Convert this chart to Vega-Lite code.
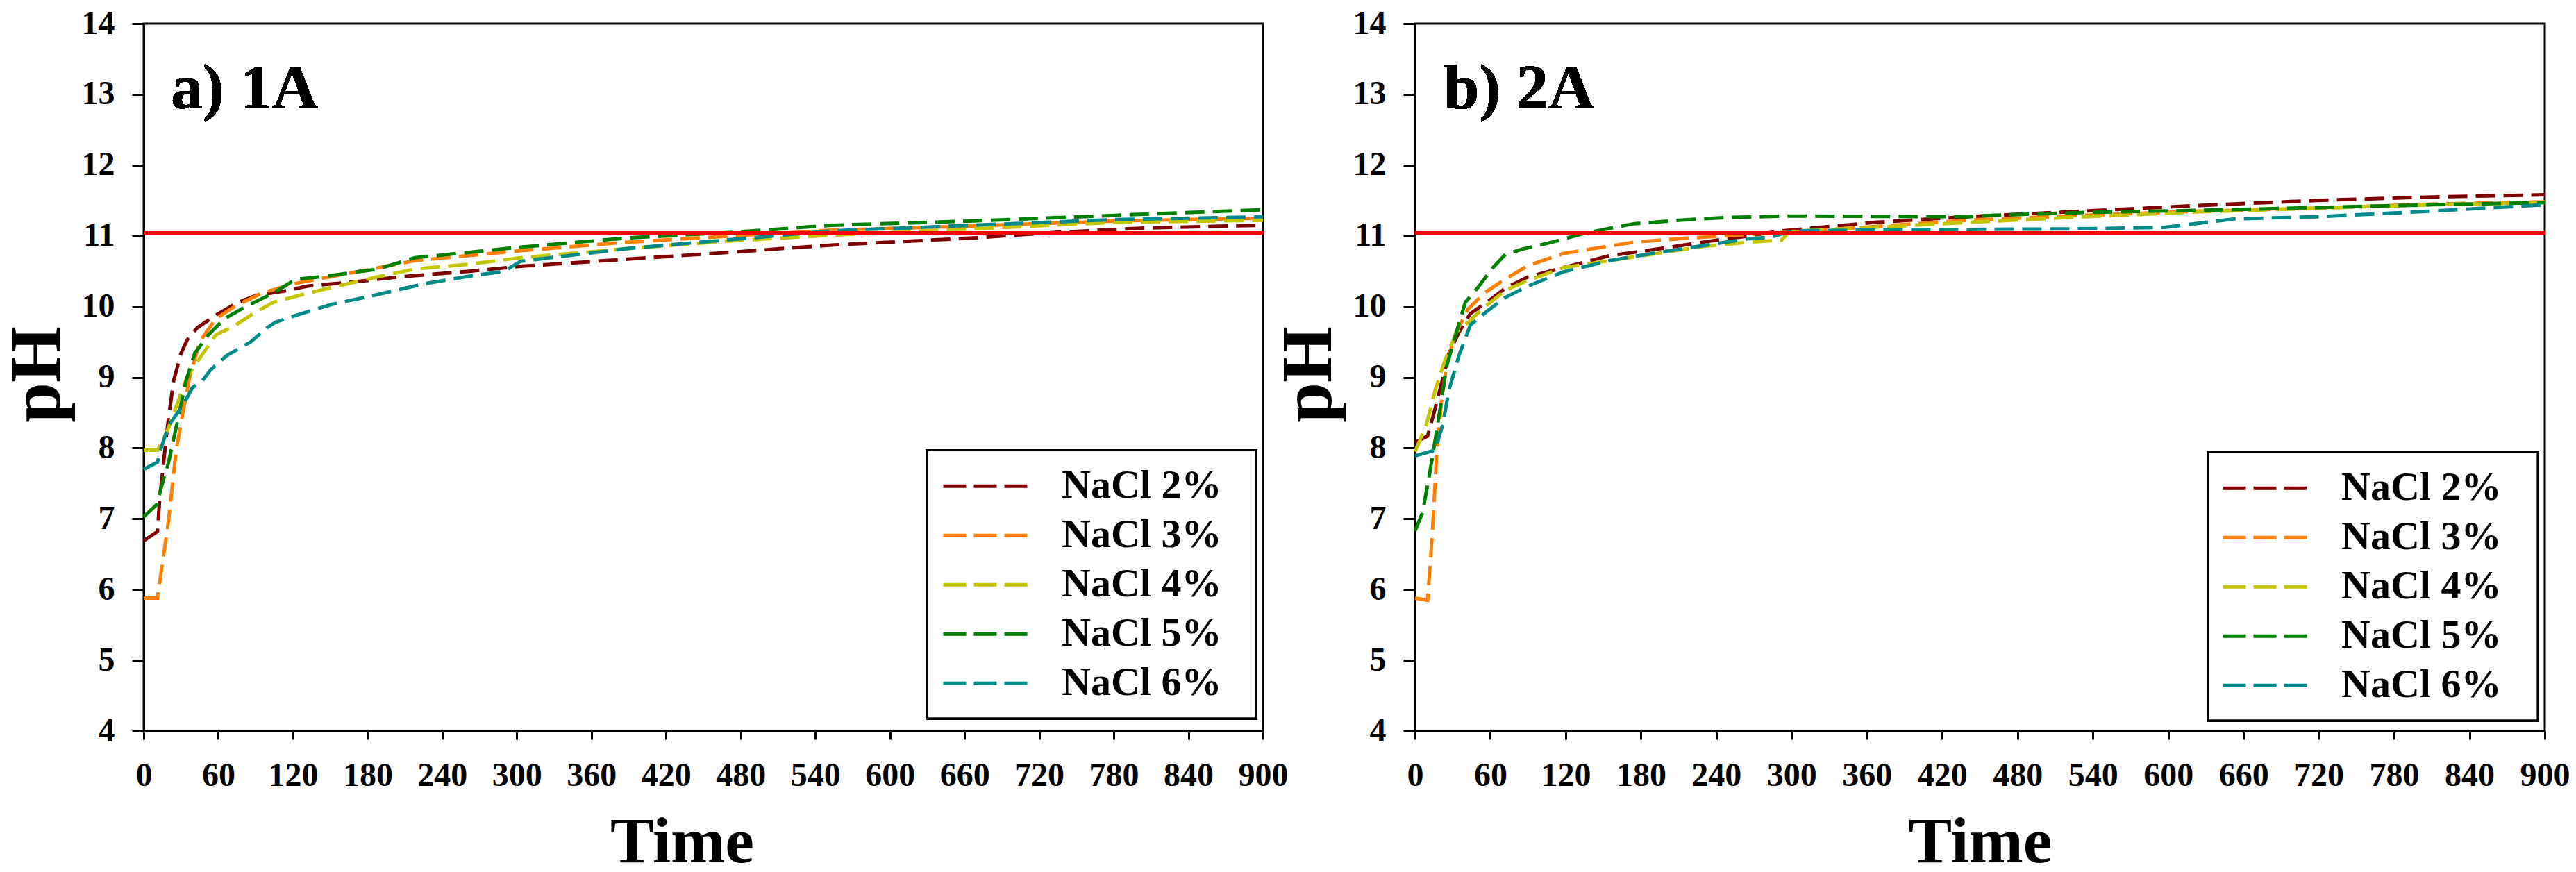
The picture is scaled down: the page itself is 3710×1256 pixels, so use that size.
{
  "$schema": "https://vega.github.io/schema/vega-lite/v6.json",
  "background": "white",
  "padding": {"left": 0, "top": 8, "right": 0, "bottom": 0},
  "spacing": 219,
  "bounds": "flush",
  "config": {
    "font": "Liberation Serif",
    "view": {"stroke": "black", "strokeWidth": 3},
    "axis": {
      "grid": false,
      "domainColor": "black",
      "domainWidth": 3,
      "tickColor": "black",
      "tickWidth": 3,
      "labelFont": "Liberation Serif",
      "labelFontWeight": "bold",
      "labelFontSize": 48,
      "labelColor": "black",
      "labelFlush": false,
      "labelOverlap": false,
      "titleFont": "Liberation Serif",
      "titleFontWeight": "bold",
      "titleColor": "black"
    },
    "legend": {
      "orient": "none",
      "title": null,
      "padding": 0,
      "symbolType": "stroke",
      "symbolSize": 14884,
      "symbolStrokeWidth": 5,
      "symbolDash": [33, 11],
      "labelFont": "Liberation Serif",
      "labelFontWeight": "bold",
      "labelFontSize": 58,
      "labelColor": "black",
      "labelOffset": 46,
      "clipHeight": 70.5,
      "rowPadding": 0,
      "labelLimit": 400
    }
  },
  "datasets": {
    "panelA": [
      {"series": "NaCl 2%", "time": 0, "pH": 6.69},
      {"series": "NaCl 2%", "time": 11, "pH": 6.82},
      {"series": "NaCl 2%", "time": 13, "pH": 7.31},
      {"series": "NaCl 2%", "time": 19, "pH": 8.29},
      {"series": "NaCl 2%", "time": 24, "pH": 8.95},
      {"series": "NaCl 2%", "time": 30, "pH": 9.34},
      {"series": "NaCl 2%", "time": 35, "pH": 9.53},
      {"series": "NaCl 2%", "time": 43, "pH": 9.7},
      {"series": "NaCl 2%", "time": 58, "pH": 9.88},
      {"series": "NaCl 2%", "time": 76, "pH": 10.06},
      {"series": "NaCl 2%", "time": 91, "pH": 10.16},
      {"series": "NaCl 2%", "time": 113, "pH": 10.22},
      {"series": "NaCl 2%", "time": 132, "pH": 10.29},
      {"series": "NaCl 2%", "time": 169, "pH": 10.35},
      {"series": "NaCl 2%", "time": 206, "pH": 10.42},
      {"series": "NaCl 2%", "time": 262, "pH": 10.5},
      {"series": "NaCl 2%", "time": 303, "pH": 10.57},
      {"series": "NaCl 2%", "time": 389, "pH": 10.67},
      {"series": "NaCl 2%", "time": 474, "pH": 10.77},
      {"series": "NaCl 2%", "time": 553, "pH": 10.87},
      {"series": "NaCl 2%", "time": 667, "pH": 10.97},
      {"series": "NaCl 2%", "time": 735, "pH": 11.05},
      {"series": "NaCl 2%", "time": 804, "pH": 11.11},
      {"series": "NaCl 2%", "time": 900, "pH": 11.15},
      {"series": "NaCl 3%", "time": 0, "pH": 5.88},
      {"series": "NaCl 3%", "time": 11, "pH": 5.88},
      {"series": "NaCl 3%", "time": 20, "pH": 6.98},
      {"series": "NaCl 3%", "time": 26, "pH": 7.96},
      {"series": "NaCl 3%", "time": 32, "pH": 8.55},
      {"series": "NaCl 3%", "time": 37, "pH": 9.01},
      {"series": "NaCl 3%", "time": 45, "pH": 9.5},
      {"series": "NaCl 3%", "time": 50, "pH": 9.63},
      {"series": "NaCl 3%", "time": 58, "pH": 9.83},
      {"series": "NaCl 3%", "time": 73, "pH": 10.0},
      {"series": "NaCl 3%", "time": 95, "pH": 10.19},
      {"series": "NaCl 3%", "time": 114, "pH": 10.29},
      {"series": "NaCl 3%", "time": 128, "pH": 10.35},
      {"series": "NaCl 3%", "time": 180, "pH": 10.52},
      {"series": "NaCl 3%", "time": 218, "pH": 10.65},
      {"series": "NaCl 3%", "time": 303, "pH": 10.79},
      {"series": "NaCl 3%", "time": 389, "pH": 10.91},
      {"series": "NaCl 3%", "time": 474, "pH": 11.0},
      {"series": "NaCl 3%", "time": 553, "pH": 11.08},
      {"series": "NaCl 3%", "time": 667, "pH": 11.14},
      {"series": "NaCl 3%", "time": 781, "pH": 11.21},
      {"series": "NaCl 3%", "time": 900, "pH": 11.25},
      {"series": "NaCl 4%", "time": 0, "pH": 7.97},
      {"series": "NaCl 4%", "time": 11, "pH": 7.97},
      {"series": "NaCl 4%", "time": 15, "pH": 8.09},
      {"series": "NaCl 4%", "time": 20, "pH": 8.29},
      {"series": "NaCl 4%", "time": 28, "pH": 8.68},
      {"series": "NaCl 4%", "time": 35, "pH": 9.01},
      {"series": "NaCl 4%", "time": 45, "pH": 9.27},
      {"series": "NaCl 4%", "time": 58, "pH": 9.6},
      {"series": "NaCl 4%", "time": 73, "pH": 9.73},
      {"series": "NaCl 4%", "time": 88, "pH": 9.9},
      {"series": "NaCl 4%", "time": 104, "pH": 10.06},
      {"series": "NaCl 4%", "time": 132, "pH": 10.19},
      {"series": "NaCl 4%", "time": 151, "pH": 10.27},
      {"series": "NaCl 4%", "time": 188, "pH": 10.42},
      {"series": "NaCl 4%", "time": 218, "pH": 10.53},
      {"series": "NaCl 4%", "time": 262, "pH": 10.6},
      {"series": "NaCl 4%", "time": 303, "pH": 10.69},
      {"series": "NaCl 4%", "time": 389, "pH": 10.82},
      {"series": "NaCl 4%", "time": 474, "pH": 10.93},
      {"series": "NaCl 4%", "time": 553, "pH": 11.01},
      {"series": "NaCl 4%", "time": 667, "pH": 11.1},
      {"series": "NaCl 4%", "time": 781, "pH": 11.19},
      {"series": "NaCl 4%", "time": 900, "pH": 11.22},
      {"series": "NaCl 5%", "time": 0, "pH": 7.03},
      {"series": "NaCl 5%", "time": 11, "pH": 7.21},
      {"series": "NaCl 5%", "time": 14, "pH": 7.44},
      {"series": "NaCl 5%", "time": 20, "pH": 7.8},
      {"series": "NaCl 5%", "time": 28, "pH": 8.45},
      {"series": "NaCl 5%", "time": 34, "pH": 8.95},
      {"series": "NaCl 5%", "time": 41, "pH": 9.34},
      {"series": "NaCl 5%", "time": 52, "pH": 9.6},
      {"series": "NaCl 5%", "time": 65, "pH": 9.83},
      {"series": "NaCl 5%", "time": 82, "pH": 10.0},
      {"series": "NaCl 5%", "time": 104, "pH": 10.19},
      {"series": "NaCl 5%", "time": 119, "pH": 10.35},
      {"series": "NaCl 5%", "time": 125, "pH": 10.39},
      {"series": "NaCl 5%", "time": 151, "pH": 10.44},
      {"series": "NaCl 5%", "time": 188, "pH": 10.53},
      {"series": "NaCl 5%", "time": 218, "pH": 10.69},
      {"series": "NaCl 5%", "time": 303, "pH": 10.84},
      {"series": "NaCl 5%", "time": 389, "pH": 10.97},
      {"series": "NaCl 5%", "time": 474, "pH": 11.05},
      {"series": "NaCl 5%", "time": 553, "pH": 11.15},
      {"series": "NaCl 5%", "time": 667, "pH": 11.21},
      {"series": "NaCl 5%", "time": 781, "pH": 11.29},
      {"series": "NaCl 5%", "time": 900, "pH": 11.37},
      {"series": "NaCl 6%", "time": 0, "pH": 7.7},
      {"series": "NaCl 6%", "time": 11, "pH": 7.8},
      {"series": "NaCl 6%", "time": 14, "pH": 8.0},
      {"series": "NaCl 6%", "time": 20, "pH": 8.32},
      {"series": "NaCl 6%", "time": 32, "pH": 8.62},
      {"series": "NaCl 6%", "time": 39, "pH": 8.85},
      {"series": "NaCl 6%", "time": 47, "pH": 8.95},
      {"series": "NaCl 6%", "time": 54, "pH": 9.11},
      {"series": "NaCl 6%", "time": 67, "pH": 9.31},
      {"series": "NaCl 6%", "time": 86, "pH": 9.5},
      {"series": "NaCl 6%", "time": 99, "pH": 9.7},
      {"series": "NaCl 6%", "time": 106, "pH": 9.78},
      {"series": "NaCl 6%", "time": 123, "pH": 9.88},
      {"series": "NaCl 6%", "time": 151, "pH": 10.03},
      {"series": "NaCl 6%", "time": 188, "pH": 10.17},
      {"series": "NaCl 6%", "time": 225, "pH": 10.32},
      {"series": "NaCl 6%", "time": 262, "pH": 10.43},
      {"series": "NaCl 6%", "time": 290, "pH": 10.5},
      {"series": "NaCl 6%", "time": 303, "pH": 10.64},
      {"series": "NaCl 6%", "time": 389, "pH": 10.82},
      {"series": "NaCl 6%", "time": 474, "pH": 10.95},
      {"series": "NaCl 6%", "time": 553, "pH": 11.07},
      {"series": "NaCl 6%", "time": 667, "pH": 11.15},
      {"series": "NaCl 6%", "time": 781, "pH": 11.23},
      {"series": "NaCl 6%", "time": 900, "pH": 11.27}
    ],
    "panelB": [
      {"series": "NaCl 2%", "time": 0, "pH": 8.08},
      {"series": "NaCl 2%", "time": 10, "pH": 8.17},
      {"series": "NaCl 2%", "time": 16, "pH": 8.56},
      {"series": "NaCl 2%", "time": 22, "pH": 8.98},
      {"series": "NaCl 2%", "time": 27, "pH": 9.34},
      {"series": "NaCl 2%", "time": 35, "pH": 9.64},
      {"series": "NaCl 2%", "time": 44, "pH": 9.9},
      {"series": "NaCl 2%", "time": 57, "pH": 10.06},
      {"series": "NaCl 2%", "time": 72, "pH": 10.26},
      {"series": "NaCl 2%", "time": 90, "pH": 10.42},
      {"series": "NaCl 2%", "time": 118, "pH": 10.55},
      {"series": "NaCl 2%", "time": 155, "pH": 10.72},
      {"series": "NaCl 2%", "time": 192, "pH": 10.81},
      {"series": "NaCl 2%", "time": 229, "pH": 10.91},
      {"series": "NaCl 2%", "time": 266, "pH": 11.0},
      {"series": "NaCl 2%", "time": 292, "pH": 11.07},
      {"series": "NaCl 2%", "time": 366, "pH": 11.19},
      {"series": "NaCl 2%", "time": 440, "pH": 11.27},
      {"series": "NaCl 2%", "time": 533, "pH": 11.35},
      {"series": "NaCl 2%", "time": 625, "pH": 11.43},
      {"series": "NaCl 2%", "time": 718, "pH": 11.5},
      {"series": "NaCl 2%", "time": 811, "pH": 11.55},
      {"series": "NaCl 2%", "time": 900, "pH": 11.58},
      {"series": "NaCl 3%", "time": 0, "pH": 5.88},
      {"series": "NaCl 3%", "time": 10, "pH": 5.85},
      {"series": "NaCl 3%", "time": 14, "pH": 6.86},
      {"series": "NaCl 3%", "time": 17, "pH": 7.84},
      {"series": "NaCl 3%", "time": 21, "pH": 8.66},
      {"series": "NaCl 3%", "time": 25, "pH": 9.15},
      {"series": "NaCl 3%", "time": 31, "pH": 9.57},
      {"series": "NaCl 3%", "time": 42, "pH": 9.96},
      {"series": "NaCl 3%", "time": 55, "pH": 10.19},
      {"series": "NaCl 3%", "time": 72, "pH": 10.39},
      {"series": "NaCl 3%", "time": 90, "pH": 10.58},
      {"series": "NaCl 3%", "time": 118, "pH": 10.75},
      {"series": "NaCl 3%", "time": 146, "pH": 10.83},
      {"series": "NaCl 3%", "time": 174, "pH": 10.91},
      {"series": "NaCl 3%", "time": 211, "pH": 10.96},
      {"series": "NaCl 3%", "time": 248, "pH": 11.0},
      {"series": "NaCl 3%", "time": 348, "pH": 11.11},
      {"series": "NaCl 3%", "time": 440, "pH": 11.22},
      {"series": "NaCl 3%", "time": 533, "pH": 11.29},
      {"series": "NaCl 3%", "time": 625, "pH": 11.35},
      {"series": "NaCl 3%", "time": 718, "pH": 11.39},
      {"series": "NaCl 3%", "time": 811, "pH": 11.45},
      {"series": "NaCl 3%", "time": 900, "pH": 11.48},
      {"series": "NaCl 4%", "time": 0, "pH": 7.95},
      {"series": "NaCl 4%", "time": 9, "pH": 8.33},
      {"series": "NaCl 4%", "time": 16, "pH": 8.82},
      {"series": "NaCl 4%", "time": 24, "pH": 9.25},
      {"series": "NaCl 4%", "time": 33, "pH": 9.64},
      {"series": "NaCl 4%", "time": 42, "pH": 9.77},
      {"series": "NaCl 4%", "time": 53, "pH": 9.96},
      {"series": "NaCl 4%", "time": 72, "pH": 10.23},
      {"series": "NaCl 4%", "time": 90, "pH": 10.37},
      {"series": "NaCl 4%", "time": 118, "pH": 10.55},
      {"series": "NaCl 4%", "time": 155, "pH": 10.65},
      {"series": "NaCl 4%", "time": 192, "pH": 10.75},
      {"series": "NaCl 4%", "time": 229, "pH": 10.85},
      {"series": "NaCl 4%", "time": 266, "pH": 10.91},
      {"series": "NaCl 4%", "time": 292, "pH": 10.94},
      {"series": "NaCl 4%", "time": 298, "pH": 11.06},
      {"series": "NaCl 4%", "time": 366, "pH": 11.12},
      {"series": "NaCl 4%", "time": 440, "pH": 11.19},
      {"series": "NaCl 4%", "time": 533, "pH": 11.27},
      {"series": "NaCl 4%", "time": 625, "pH": 11.34},
      {"series": "NaCl 4%", "time": 718, "pH": 11.39},
      {"series": "NaCl 4%", "time": 811, "pH": 11.44},
      {"series": "NaCl 4%", "time": 900, "pH": 11.47},
      {"series": "NaCl 5%", "time": 0, "pH": 6.83},
      {"series": "NaCl 5%", "time": 6, "pH": 7.09},
      {"series": "NaCl 5%", "time": 12, "pH": 7.68},
      {"series": "NaCl 5%", "time": 18, "pH": 8.33},
      {"series": "NaCl 5%", "time": 25, "pH": 9.15},
      {"series": "NaCl 5%", "time": 33, "pH": 9.64},
      {"series": "NaCl 5%", "time": 40, "pH": 10.06},
      {"series": "NaCl 5%", "time": 51, "pH": 10.29},
      {"series": "NaCl 5%", "time": 62, "pH": 10.55},
      {"series": "NaCl 5%", "time": 72, "pH": 10.74},
      {"series": "NaCl 5%", "time": 85, "pH": 10.81},
      {"series": "NaCl 5%", "time": 109, "pH": 10.91},
      {"series": "NaCl 5%", "time": 136, "pH": 11.04},
      {"series": "NaCl 5%", "time": 174, "pH": 11.17},
      {"series": "NaCl 5%", "time": 210, "pH": 11.22},
      {"series": "NaCl 5%", "time": 248, "pH": 11.26},
      {"series": "NaCl 5%", "time": 300, "pH": 11.28},
      {"series": "NaCl 5%", "time": 440, "pH": 11.27},
      {"series": "NaCl 5%", "time": 459, "pH": 11.29},
      {"series": "NaCl 5%", "time": 533, "pH": 11.33},
      {"series": "NaCl 5%", "time": 625, "pH": 11.36},
      {"series": "NaCl 5%", "time": 718, "pH": 11.4},
      {"series": "NaCl 5%", "time": 811, "pH": 11.44},
      {"series": "NaCl 5%", "time": 900, "pH": 11.47},
      {"series": "NaCl 6%", "time": 0, "pH": 7.89},
      {"series": "NaCl 6%", "time": 16, "pH": 7.97},
      {"series": "NaCl 6%", "time": 22, "pH": 8.33},
      {"series": "NaCl 6%", "time": 27, "pH": 8.82},
      {"series": "NaCl 6%", "time": 35, "pH": 9.31},
      {"series": "NaCl 6%", "time": 44, "pH": 9.74},
      {"series": "NaCl 6%", "time": 57, "pH": 9.93},
      {"series": "NaCl 6%", "time": 72, "pH": 10.13},
      {"series": "NaCl 6%", "time": 90, "pH": 10.29},
      {"series": "NaCl 6%", "time": 118, "pH": 10.49},
      {"series": "NaCl 6%", "time": 155, "pH": 10.65},
      {"series": "NaCl 6%", "time": 192, "pH": 10.76},
      {"series": "NaCl 6%", "time": 229, "pH": 10.86},
      {"series": "NaCl 6%", "time": 266, "pH": 10.96},
      {"series": "NaCl 6%", "time": 283, "pH": 10.98},
      {"series": "NaCl 6%", "time": 301, "pH": 11.07},
      {"series": "NaCl 6%", "time": 348, "pH": 11.08},
      {"series": "NaCl 6%", "time": 440, "pH": 11.09},
      {"series": "NaCl 6%", "time": 533, "pH": 11.1},
      {"series": "NaCl 6%", "time": 597, "pH": 11.12},
      {"series": "NaCl 6%", "time": 653, "pH": 11.24},
      {"series": "NaCl 6%", "time": 718, "pH": 11.27},
      {"series": "NaCl 6%", "time": 811, "pH": 11.35},
      {"series": "NaCl 6%", "time": 900, "pH": 11.44}
    ]
  },
  "hconcat": [
    {
      "width": 1612,
      "height": 1019,
      "data": {"name": "panelA"},
      "layer": [
        {
          "mark": {"type": "line", "strokeWidth": 5, "strokeDash": [28, 12]},
          "encoding": {
            "x": {
              "field": "time",
              "type": "quantitative",
              "scale": {"domain": [0, 900], "nice": false, "zero": false},
              "axis": {
                "values": [0, 60, 120, 180, 240, 300, 360, 420, 480, 540, 600, 660, 720, 780, 840, 900],
                "format": "d",
                "tickSize": 12,
                "labelPadding": 28,
                "title": "Time",
                "titleFontSize": 94,
                "titleBaseline": "alphabetic",
                "titleX": 775,
                "titleY": 188
              }
            },
            "y": {
              "field": "pH",
              "type": "quantitative",
              "scale": {"domain": [4, 14], "nice": false, "zero": false},
              "axis": {
                "values": [4, 5, 6, 7, 8, 9, 10, 11, 12, 13, 14],
                "format": "d",
                "tickSize": 17,
                "labelPadding": 25,
                "title": "pH",
                "titleFontSize": 104,
                "titleAngle": -90,
                "titleAlign": "center",
                "titleBaseline": "alphabetic",
                "titleX": -122,
                "titleY": 505
              }
            },
            "color": {
              "field": "series",
              "type": "nominal",
              "scale": {
                "domain": ["NaCl 2%", "NaCl 3%", "NaCl 4%", "NaCl 5%", "NaCl 6%"],
                "range": ["#800000", "#FF8000", "#C4C400", "#008000", "#008B8B"]
              },
              "legend": {"legendX": 1149, "legendY": 631}
            }
          }
        },
        {
          "mark": {"type": "rule", "color": "#FF0000", "strokeWidth": 5},
          "encoding": {"y": {"datum": 11.04}}
        },
        {
          "mark": {"type": "rect", "fill": "white", "stroke": "black", "strokeWidth": 3},
          "encoding": {
            "x": {"datum": 630},
            "x2": {"datum": 894.5},
            "y": {"datum": 7.97},
            "y2": {"datum": 4.18}
          }
        },
        {
          "mark": {"type": "text", "fontSize": 92, "fontWeight": "bold", "align": "left", "baseline": "alphabetic", "color": "black"},
          "encoding": {
            "x": {"datum": 21.8},
            "y": {"datum": 12.8},
            "text": {"value": "a) 1A"}
          }
        }
      ]
    },
    {
      "width": 1627,
      "height": 1019,
      "data": {"name": "panelB"},
      "layer": [
        {
          "mark": {"type": "line", "strokeWidth": 5, "strokeDash": [28, 12]},
          "encoding": {
            "x": {
              "field": "time",
              "type": "quantitative",
              "scale": {"domain": [0, 900], "nice": false, "zero": false},
              "axis": {
                "values": [0, 60, 120, 180, 240, 300, 360, 420, 480, 540, 600, 660, 720, 780, 840, 900],
                "format": "d",
                "tickSize": 12,
                "labelPadding": 28,
                "title": "Time",
                "titleFontSize": 94,
                "titleBaseline": "alphabetic",
                "titleY": 188
              }
            },
            "y": {
              "field": "pH",
              "type": "quantitative",
              "scale": {"domain": [4, 14], "nice": false, "zero": false},
              "axis": {
                "values": [4, 5, 6, 7, 8, 9, 10, 11, 12, 13, 14],
                "format": "d",
                "tickSize": 17,
                "labelPadding": 25,
                "title": "pH",
                "titleFontSize": 104,
                "titleAngle": -90,
                "titleAlign": "center",
                "titleBaseline": "alphabetic",
                "titleX": -122,
                "titleY": 505
              }
            },
            "color": {
              "field": "series",
              "type": "nominal",
              "scale": {
                "domain": ["NaCl 2%", "NaCl 3%", "NaCl 4%", "NaCl 5%", "NaCl 6%"],
                "range": ["#800000", "#FF8000", "#C4C400", "#008000", "#008B8B"]
              },
              "legend": {"legendX": 1161, "legendY": 634}
            }
          }
        },
        {
          "mark": {"type": "rule", "color": "#FF0000", "strokeWidth": 5},
          "encoding": {"y": {"datum": 11.04}}
        },
        {
          "mark": {"type": "rect", "fill": "white", "stroke": "black", "strokeWidth": 3},
          "encoding": {
            "x": {"datum": 631.6},
            "x2": {"datum": 894.4},
            "y": {"datum": 7.95},
            "y2": {"datum": 4.15}
          }
        },
        {
          "mark": {"type": "text", "fontSize": 92, "fontWeight": "bold", "align": "left", "baseline": "alphabetic", "color": "black"},
          "encoding": {
            "x": {"datum": 22.8},
            "y": {"datum": 12.8},
            "text": {"value": "b) 2A"}
          }
        }
      ]
    }
  ],
  "resolve": {"scale": {"color": "independent"}, "legend": {"color": "independent"}}
}
